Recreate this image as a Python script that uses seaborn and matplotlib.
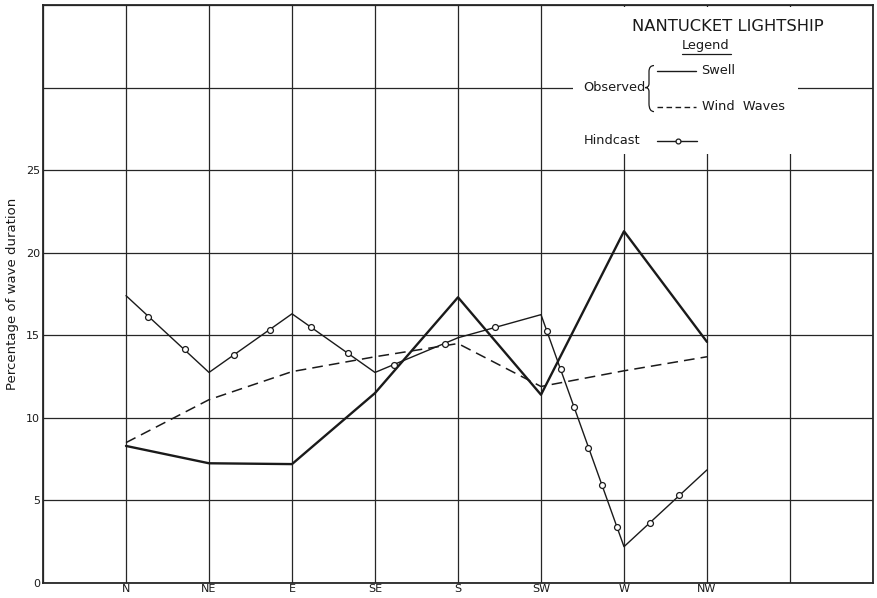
import numpy as np
import pandas as pd
import matplotlib
matplotlib.use("Agg")
import matplotlib.pyplot as plt
import seaborn as sns
from matplotlib.path import Path
from matplotlib.patches import PathPatch, Rectangle

# ---- data ----
directions = ["N", "NE", "E", "SE", "S", "SW", "W", "NW"]
swell = [8.3, 7.25, 7.2, 11.5, 17.3, 11.4, 21.3, 14.6]
wind_waves = [8.5, 11.1, 12.8, 13.7, 14.5, 11.9, 12.85, 13.7]
hindcast = [17.4, 12.75, 16.3, 12.75, 14.85, 16.25, 2.2, 6.85]
hindcast_marker_pos = [0.27, 0.71, 1.30, 1.73, 2.23, 2.67, 3.23, 3.84, 4.44,
                       5.07, 5.24, 5.40, 5.57, 5.73, 5.91, 6.31, 6.66]
hindcast_marker_val = [16.1, 14.15, 13.8, 15.3, 15.5, 13.9, 13.2, 14.5, 15.5,
                       15.25, 12.95, 10.65, 8.2, 5.95, 3.4, 3.65, 5.3]
y_tick_labels = [0, 5, 10, 15, 20, 25]

sns.set_theme(style="white")
plt.rcParams['font.family'] = ['DejaVu Sans']

pos = np.arange(len(directions))
df = pd.DataFrame({"pos": pos, "Swell": swell, "Wind Waves": wind_waves,
                   "Hindcast": hindcast})
mk = pd.DataFrame({"pos": hindcast_marker_pos, "val": hindcast_marker_val})

fig = plt.figure(figsize=(8.78, 5.98), dpi=100)
ax = fig.add_axes([43 / 878, 1 - 583 / 598, 830 / 878, 578 / 598])
ax.set_facecolor("white")

grid_c = "#262626"
ax.set_xlim(-1, 9)
ax.set_ylim(0, 35)
ax.set_xticks(np.arange(-1, 10))
ax.set_xticklabels([""] + directions + ["", ""])
ax.set_yticks(np.arange(0, 36, 5))
ax.set_yticklabels([str(v) for v in y_tick_labels] + ["", ""])
ax.grid(True, color=grid_c, linewidth=0.9)
ax.set_axisbelow(True)
for s in ax.spines.values():
    s.set_color(grid_c)
    s.set_linewidth(1.3)
    s.set_zorder(7)
ax.tick_params(axis="both", length=0, labelsize=8, colors="#1a1a1a")
ax.tick_params(axis="x", pad=1)
ax.tick_params(axis="y", pad=2)

# white legend area covering the grid
ax.add_patch(Rectangle((5.39, 26.0), 2.71, 8.9, facecolor="white",
                       edgecolor="none", zorder=1))

sns.lineplot(data=df, x="pos", y="Swell", ax=ax, color="#1a1a1a",
             linewidth=1.7, zorder=3)
sns.lineplot(data=df, x="pos", y="Wind Waves", ax=ax, color="#1a1a1a",
             linewidth=1.1, linestyle=(0, (7, 4)), zorder=3)
sns.lineplot(data=df, x="pos", y="Hindcast", ax=ax, color="#1a1a1a",
             linewidth=1.0, zorder=3)
sns.scatterplot(data=mk, x="pos", y="val", ax=ax, marker="o", s=18,
                facecolor="white", edgecolor="#1a1a1a", linewidth=0.9,
                zorder=4)

ax.set_xlabel("")
ax.set_ylabel("Percentage of wave duration", fontsize=9.5, color="#1a1a1a",
              labelpad=5)

# ---- legend drawn as text ----
def px(x, y):
    return ((x - 125) / 83.0, (583 - y) / 16.5)

tc = "#1a1a1a"
fs = 9.3
x, y = px(727, 27)
ax.text(x, y, "NANTUCKET LIGHTSHIP", ha="center", va="center", fontsize=11.8,
        color=tc, zorder=5)
x, y = px(705, 46)
ax.text(x, y, "Legend", ha="center", va="center", fontsize=fs, color=tc,
        zorder=5)
x1, yu = px(681, 54)
x2, _ = px(730, 54)
ax.plot([x1, x2], [yu, yu], color=tc, linewidth=0.9, zorder=5)

xa, ys = px(656, 71)
xb, _ = px(695, 71)
ax.plot([xa, xb], [ys, ys], color=tc, linewidth=1.0, zorder=5)
xt, _ = px(700, 71)
ax.text(xt, ys, "Swell", ha="left", va="center", fontsize=fs, color=tc,
        zorder=5)

xa, yw = px(656, 107)
ax.plot([xa, xb], [yw, yw], color=tc, linewidth=1.0,
        linestyle=(0, (4, 2.5)), zorder=5)
xt, _ = px(701, 107)
ax.text(xt, yw, "Wind  Waves", ha="left", va="center", fontsize=fs,
        color=tc, zorder=5)

x, y = px(644, 88)
ax.text(x, y, "Observed", ha="right", va="center", fontsize=fs, color=tc,
        zorder=5)

# curly brace
bp = [px(653, 66), px(648, 66), px(648, 72), px(648, 84), px(648, 88),
      px(644, 88), px(648, 88), px(648, 92), px(648, 104), px(648, 112),
      px(653, 112)]
codes = [Path.MOVETO, Path.CURVE3, Path.CURVE3, Path.LINETO, Path.CURVE3,
         Path.CURVE3, Path.CURVE3, Path.CURVE3, Path.LINETO, Path.CURVE3,
         Path.CURVE3]
ax.add_patch(PathPatch(Path(bp, codes), facecolor="none", edgecolor=tc,
                       linewidth=0.9, zorder=5))

x, yh = px(583, 141)
ax.text(x, yh, "Hindcast", ha="left", va="center", fontsize=fs, color=tc,
        zorder=5)
xa, _ = px(656, 141)
xb, _ = px(696, 141)
ax.plot([xa, xb], [yh, yh], color=tc, linewidth=1.0, zorder=5)
xc, _ = px(677, 141)
ax.plot([xc], [yh], marker="o", markersize=3.5, markerfacecolor="white",
        markeredgecolor=tc, markeredgewidth=0.9, zorder=6)

fig.savefig("out.png", dpi=100, facecolor="white")
